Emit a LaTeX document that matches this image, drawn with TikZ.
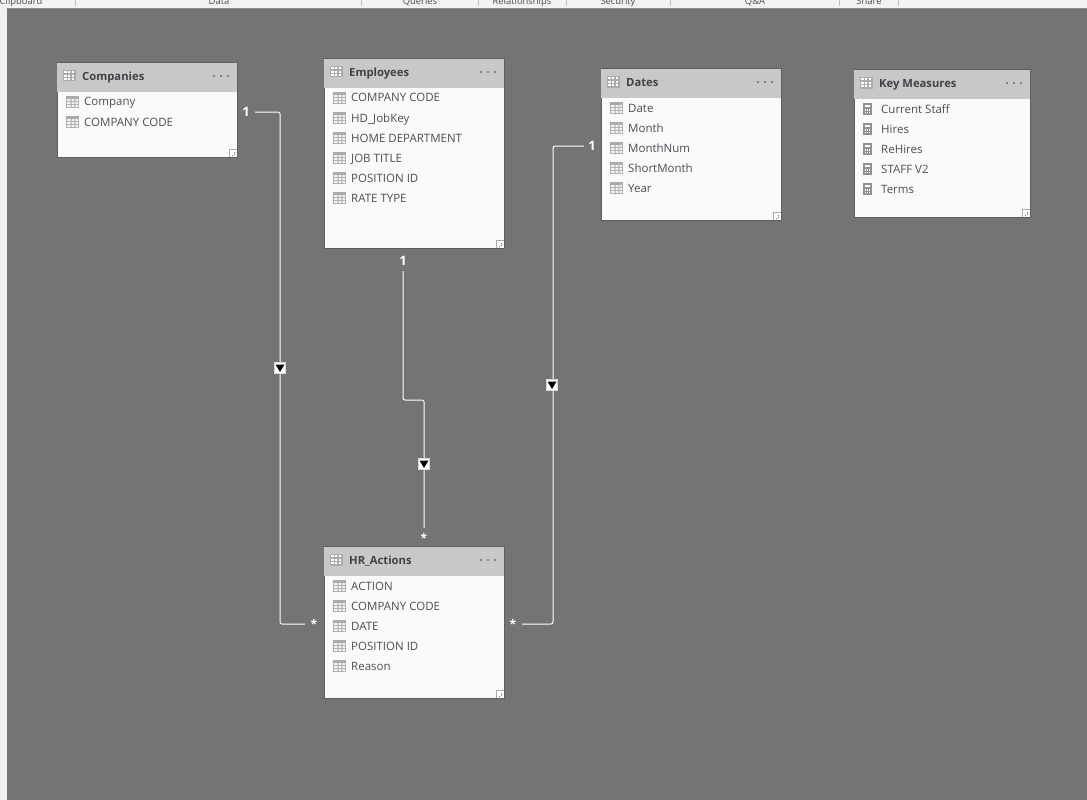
\documentclass[tikz,border=0pt]{standalone}
\usepackage{fontspec}
\setmainfont{Open Sans}
\definecolor{canvas}{HTML}{747474}
\definecolor{ribbon}{HTML}{F3F2F1}
\definecolor{strip}{HTML}{F0EFEE}
\definecolor{headbar}{HTML}{C8C8C8}
\definecolor{tablebody}{HTML}{FAFAFA}
\definecolor{edgegray}{HTML}{5F5F5F}
\definecolor{icongray}{HTML}{ABABAB}
\definecolor{inktext}{HTML}{4A4F55}
\definecolor{headtext}{HTML}{3F4246}
\definecolor{ribbontext}{HTML}{4D4D4D}
\tikzset{
  x=1pt,y=-1pt,
  tablebox/.style={draw=edgegray,line width=0.8pt,fill=tablebody,rectangle,inner sep=0pt,anchor=north west},
  headbox/.style={fill=headbar,rectangle,inner sep=0pt,anchor=north west},
  headlabel/.style={anchor=base west,inner sep=0pt,font=\fontsize{11.25}{14}\selectfont\bfseries,text=headtext},
  fieldlabel/.style={anchor=base west,inner sep=0pt,font=\fontsize{11.5}{14}\selectfont,text=inktext},
  ribbonlabel/.style={anchor=base,inner sep=0pt,font=\fontsize{9.4}{11}\selectfont,text=ribbontext},
  onelabel/.style={inner sep=0pt,minimum width=18pt,minimum height=20pt,text=white,font=\fontsize{13}{14}\selectfont\bfseries},
  manylabel/.style={inner sep=0pt,minimum width=18pt,minimum height=20pt,text=white,font=\fontsize{12}{13}\selectfont\bfseries},
  relation/.style={draw=white,line width=1pt,rounded corners=2pt},
  dirmark/.style={fill=white,draw=black!15,line width=0.4pt,rectangle,minimum width=11pt,minimum height=11pt,inner sep=0pt},
}
\newcommand{\gridicon}[4]{%
  \fill[icongray] (#1,#2) rectangle ++(#3,#4);
  \foreach \cx in {0,1,2} \foreach \cy in {0,1,2}
    \fill[white] ({#1+1.4+\cx*(#3-1.4)/3},{#2+1.4+\cy*(#4-1.4)/3}) rectangle ++({(#3-1.4)/3-1.4},{(#4-1.4)/3-1.4});
}
\newcommand{\fieldicon}[2]{%
  \fill[icongray] (#1,#2) rectangle ++(13,12);
  \fill[white!85!icongray] (#1+1,#2+3) rectangle ++(3.6,2.2) (#1+5.6,#2+3) rectangle ++(2.8,2.2) (#1+9.4,#2+3) rectangle ++(2.6,2.2)
    (#1+1,#2+6) rectangle ++(3.6,2.2) (#1+5.6,#2+6) rectangle ++(2.8,2.2) (#1+9.4,#2+6) rectangle ++(2.6,2.2)
    (#1+1,#2+9) rectangle ++(3.6,2.2) (#1+5.6,#2+9) rectangle ++(2.8,2.2) (#1+9.4,#2+9) rectangle ++(2.6,2.2);
}
\newcommand{\calcicon}[2]{%
  \fill[icongray!85!black] (#1,#2) rectangle ++(9,12);
  \fill[white] (#1+2,#2+2) rectangle ++(5,2);
  \foreach \cx in {0,1,2} \foreach \cy in {0,1,2}
    \fill[white] ({#1+2+\cx*2},{#2+5.5+\cy*1.8}) rectangle ++(1,1);
}
% name, x, y, width, height, title
\newcommand{\tableframe}[6]{%
  \node[tablebox,minimum width=#4pt,minimum height=#5pt] (#1) at (#2-0.4,#3-0.4) {};
  \node[headbox,minimum width=#4pt,minimum height=30pt] (#1head) at (#2,#3) {};
  \draw[edgegray,line width=0.8pt] (#2,#3) -- ++(#4,0);
  \gridicon{#2+6}{#3+8}{12.5}{11.5}
  \node[headlabel] (#1title) at (#2+25,#3+18.6) {#6};
  \foreach \dx in {-23,-16,-9}
    \fill[gray] ({#2+#4+\dx-0.8},{#3+13.2}) rectangle ++(1.6,1.6);
  \fill[white] (#2+#4-8,#3+#5-8) rectangle ++(7.6,7.6);
  \draw[icongray,line width=0.5pt] (#2+#4-8,#3+#5-0.5) -- ++(0,-7.5) -- ++(7.5,0);
  \fill[gray] (#2+#4-3,#3+#5-3.2) rectangle ++(1,1) (#2+#4-5,#3+#5-2) rectangle ++(1,1) (#2+#4-3,#3+#5-5) rectangle ++(1,1);
}
% name, table x, row y, text
\newcommand{\fieldrow}[4]{%
  \fieldicon{#2+9}{#3-6}
  \node[fieldlabel] (#1) at (#2+27,#3+4) {#4};
}
\newcommand{\measurerow}[4]{%
  \calcicon{#2+9}{#3-6}
  \node[fieldlabel] (#1) at (#2+27,#3+4) {#4};
}
\begin{document}
\begin{tikzpicture}
\useasboundingbox (0,0) rectangle (1087,800);
\fill[canvas] (0,0) rectangle (1087,800);
\fill[strip] (0,8) rectangle (6.5,800);
% ribbon
\begin{scope}
  \clip (0,0) rectangle (1087,8);
  \fill[ribbon] (0,0) rectangle (1087,8);
  \node[ribbonlabel] (rb1) at (21,5) {Clipboard};
  \node[ribbonlabel] (rb2) at (219,5) {Data};
  \node[ribbonlabel] (rb3) at (420,5) {Queries};
  \node[ribbonlabel] (rb4) at (522,5) {Relationships};
  \node[ribbonlabel] (rb5) at (618,5) {Security};
  \node[ribbonlabel] (rb6) at (755,5) {Q\&A};
  \node[ribbonlabel] (rb7) at (869,5) {Share};
  \foreach \sx in {75,361,478,566,670,839,898}
    \draw[black!25,line width=0.6pt] (\sx,0) -- (\sx,6);
\end{scope}
\draw[black!45,line width=0.6pt] (6.5,8.3) -- (1087,8.3);

% tables
\tableframe{comp}{57}{62}{180}{95}{Companies}
\fieldrow{c1}{57}{102}{Company}
\fieldrow{c2}{57}{122}{COMPANY CODE}

\tableframe{emp}{324}{58}{180}{190}{Employees}
\fieldrow{e1}{324}{98}{COMPANY CODE}
\fieldrow{e2}{324}{118}{HD\_JobKey}
\fieldrow{e3}{324}{138}{HOME DEPARTMENT}
\fieldrow{e4}{324}{158}{JOB TITLE}
\fieldrow{e5}{324}{178}{POSITION ID}
\fieldrow{e6}{324}{198}{RATE TYPE}

\tableframe{dat}{601}{68}{180}{152}{Dates}
\fieldrow{d1}{601}{108}{Date}
\fieldrow{d2}{601}{128}{Month}
\fieldrow{d3}{601}{148}{MonthNum}
\fieldrow{d4}{601}{168}{ShortMonth}
\fieldrow{d5}{601}{188}{Year}

\tableframe{key}{854}{69}{176}{148}{Key Measures}
\measurerow{k1}{854}{109}{Current Staff}
\measurerow{k2}{854}{129}{Hires}
\measurerow{k3}{854}{149}{ReHires}
\measurerow{k4}{854}{169}{STAFF V2}
\measurerow{k5}{854}{189}{Terms}

\tableframe{hr}{324}{546}{180}{152}{HR\_Actions}
\fieldrow{h1}{324}{586}{ACTION}
\fieldrow{h2}{324}{606}{COMPANY CODE}
\fieldrow{h3}{324}{626}{DATE}
\fieldrow{h4}{324}{646}{POSITION ID}
\fieldrow{h5}{324}{666}{Reason}

% cardinality labels
\node[onelabel] (one1) at (246,112) {1};
\node[onelabel] (one2) at (403,261) {1};
\node[onelabel,minimum width=16pt] (one3) at (592,146) {1};
\node[manylabel] (many1) at (314,624) {\raisebox{-3.6pt}{*}};
\node[manylabel] (many2) at (424,538) {\raisebox{-3.6pt}{*}};
\node[manylabel] (many3) at (513,624) {\raisebox{-3.6pt}{*}};

% connectors
\coordinate (b1a) at (280,112);
\coordinate (b1b) at (280,624);
\coordinate (b2a) at (403,400);
\coordinate (b2b) at (424,400);
\coordinate (b3a) at (553,146);
\coordinate (b3b) at (553,624);
\draw[relation] (one1.east) -- (b1a) -- (b1b) -- (many1.west);
\draw[relation] (one2.south) -- (b2a) -- (b2b) -- (many2.north);
\draw[relation] (one3.west) -- (b3a) -- (b3b) -- (many3.east);

% direction markers
\foreach \mname/\mx/\my in {m1/280/368,m2/424/464,m3/552/385}{
  \node[dirmark] (\mname) at (\mx,\my) {};
  \fill[black] (\mx-4.5,\my-3.5) -- (\mx+4.5,\my-3.5) -- (\mx,\my+4) -- cycle;
}
\end{tikzpicture}
\end{document}
